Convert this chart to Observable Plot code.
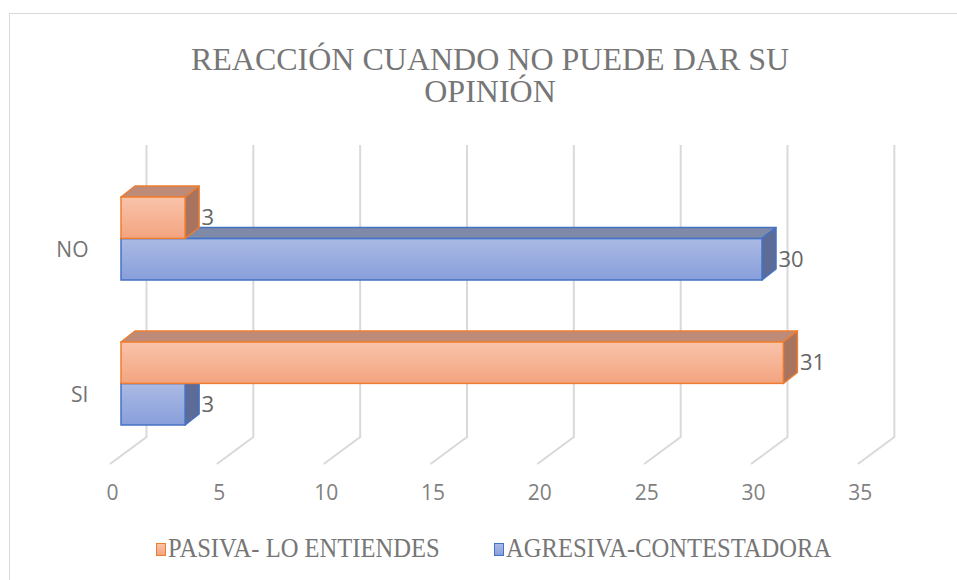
<!DOCTYPE html>
<html>
<head>
<meta charset="utf-8">
<script src="https://cdn.jsdelivr.net/npm/d3@7"></script>
<script src="https://cdn.jsdelivr.net/npm/@observablehq/plot@0.6"></script>
<style>
  body { margin: 0; background: #fff; }
  #wrap { position: relative; width: 957px; height: 580px; overflow: hidden; background: #fff; }
  #border { position: absolute; left: 9px; top: 13px; width: 1000px; height: 640px; border: 1.5px solid #d9d9d9; box-sizing: border-box; }
  .serif { font-family: "Liberation Serif", "Tinos", "Times New Roman", serif; }
  .title { position: absolute; left: 0; top: 43px; width: 980px; text-align: center;
           font-size: 32px; line-height: 32px; color: #767676; white-space: nowrap; }
  .title span { display: inline-block; transform: scaleX(1.0); }
  .legtext { position: absolute; font-size: 27px; line-height: 27px;
             color: #767676; white-space: nowrap; transform: scaleX(0.91); transform-origin: left center; }
  .legsw { position: absolute; width: 10px; height: 13px; box-sizing: border-box; border: 1.5px solid; }
  #chart { position: absolute; left: 0; top: 115px; }
</style>
</head>
<body>
<div id="wrap">
  <div id="border"></div>
  <div class="title serif"><span id="t1"></span></div>
  <div id="chart"></div>
  <div class="legsw" id="sw0" style="left:156px;top:543px;background:linear-gradient(#f9c3aa,#f3a480);border-color:#ed7d31"></div>
  <div class="legtext serif" id="lg0" style="left:168px;top:535px"></div>
  <div class="legsw" id="sw1" style="left:494px;top:543px;background:linear-gradient(#abbae4,#889fdb);border-color:#4472c4"></div>
  <div class="legtext serif" id="lg1" style="left:506px;top:535px"></div>
</div>
<script>
// ---- data ----
const titleLines = ["REACCIÓN CUANDO NO PUEDE DAR SU", "OPINIÓN"];
const categories = ["NO", "SI"];
const seriesNames = ["PASIVA- LO ENTIENDES", "AGRESIVA-CONTESTADORA"];
const pasiva = [3, 31];
const agresiva = [30, 3];
const xTicks = [0, 5, 10, 15, 20, 25, 30, 35];

// ---- text ----
const t1 = document.getElementById("t1");
t1.appendChild(document.createTextNode(titleLines[0]));
t1.appendChild(document.createElement("br"));
t1.appendChild(document.createTextNode(titleLines[1]));
document.getElementById("lg0").textContent = seriesNames[0];
document.getElementById("lg1").textContent = seriesNames[1];

// ---- layout constants ----
const X0 = 121, PX_PER_UNIT = 21.367;
const Y_RANGE = [81.4, 310.1];
const PAD_INNER = 0.428;
const STEP = (Y_RANGE[1] - Y_RANGE[0]) / (categories.length - PAD_INNER);
const BW = STEP * (1 - PAD_INNER);
const DX = 14, DY = 11;               // bar depth offset
const WALL_DX = 25.5, FLOOR_DX = -11; // gridline back / front offsets
const WALL_TOP = 30, WALL_BOT = 322, FLOOR_Y = 349;

const pasivaData = categories.map((c, i) => ({cat: c, value: pasiva[i]}));
const agresivaData = categories.map((c, i) => ({cat: c, value: agresiva[i]}));

function gridMark() {
  return (index, scales) => {
    const x = scales.x;
    const g = d3.create("svg:g").attr("aria-label", "3d-grid")
      .attr("fill", "none").attr("stroke", "#d9d9d9").attr("stroke-width", 2);
    const defs = g.append("defs");
    const grads = [["gO", "#f9c3aa", "#f3a480"], ["gB", "#abbae4", "#889fdb"]];
    for (const [id, c0, c1] of grads) {
      const lg = defs.append("linearGradient").attr("id", id).attr("x1", 0).attr("y1", 0).attr("x2", 0).attr("y2", 1);
      lg.append("stop").attr("offset", "0%").attr("stop-color", c0);
      lg.append("stop").attr("offset", "100%").attr("stop-color", c1);
    }
    for (const t of xTicks) {
      const xp = x(t);
      g.append("path").attr("d",
        `M${xp + WALL_DX},${WALL_TOP}L${xp + WALL_DX},${WALL_BOT}L${xp + FLOOR_DX},${FLOOR_Y}`);
    }
    return g.node();
  };
}

function facesMark(rows, lower, topFill, sideFill, stroke) {
  return (index, scales) => {
    const {x, y} = scales;
    const bw = typeof y.bandwidth === "function" ? y.bandwidth() : BW;
    const g = d3.create("svg:g").attr("aria-label", "3d-faces")
      .attr("stroke", stroke).attr("stroke-width", 1.5).attr("stroke-linejoin", "round");
    for (const d of rows) {
      const x0 = x(0), x1 = x(d.value);
      const yt = y(d.cat) + (lower ? bw / 2 : 0), yb = yt + bw / 2;
      g.append("path").attr("fill", topFill)
        .attr("d", `M${x0},${yt}L${x1},${yt}L${x1 + DX},${yt - DY}L${x0 + DX},${yt - DY}Z`);
      g.append("path").attr("fill", sideFill)
        .attr("d", `M${x1},${yt}L${x1 + DX},${yt - DY}L${x1 + DX},${yb - DY}L${x1},${yb}Z`);
    }
    return g.node();
  };
}

const chart = Plot.plot({
  width: 957,
  height: 390,
  margin: 0,
  style: {background: "transparent", fontFamily: "'Open Sans', sans-serif", overflow: "visible"},
  x: {domain: [0, 35], range: [X0, X0 + 35 * PX_PER_UNIT], axis: null},
  y: {domain: categories, range: Y_RANGE, paddingInner: PAD_INNER, paddingOuter: 0, axis: null},
  marks: [
    gridMark(),
    facesMark(agresivaData, true, "#7f8aa8", "#5d6c97", "#4472c4"),
    Plot.barX(agresivaData, {x: "value", y: "cat", insetTop: BW / 2, fill: "url(#gB)", stroke: "#4472c4", strokeWidth: 1.5}),
    facesMark(pasivaData, false, "#bd8b77", "#a8735f", "#ed7d31"),
    Plot.barX(pasivaData, {x: "value", y: "cat", insetBottom: BW / 2, fill: "url(#gO)", stroke: "#ed7d31", strokeWidth: 1.5}),
    Plot.text(pasivaData, {x: "value", y: "cat", text: d => String(d.value), dx: DX + 2, dy: -BW / 4,
      textAnchor: "start", fontSize: 22, fill: "#666666"}),
    Plot.text(agresivaData, {x: "value", y: "cat", text: d => String(d.value), dx: DX + 2, dy: BW / 4,
      textAnchor: "start", fontSize: 22, fill: "#666666"}),
    Plot.text(categories, {x: () => 0, y: d => d, text: d => d, textAnchor: "end", dx: -33, dy: 11,
      fontSize: 21, fill: "#737373"}),
    Plot.text(xTicks, {x: d => d, text: d => String(d), frameAnchor: "bottom", dx: FLOOR_DX + 2, dy: -6,
      fontSize: 21, fill: "#7f7f7f"})
  ]
});
document.getElementById("chart").appendChild(chart);
</script>
</body>
</html>
